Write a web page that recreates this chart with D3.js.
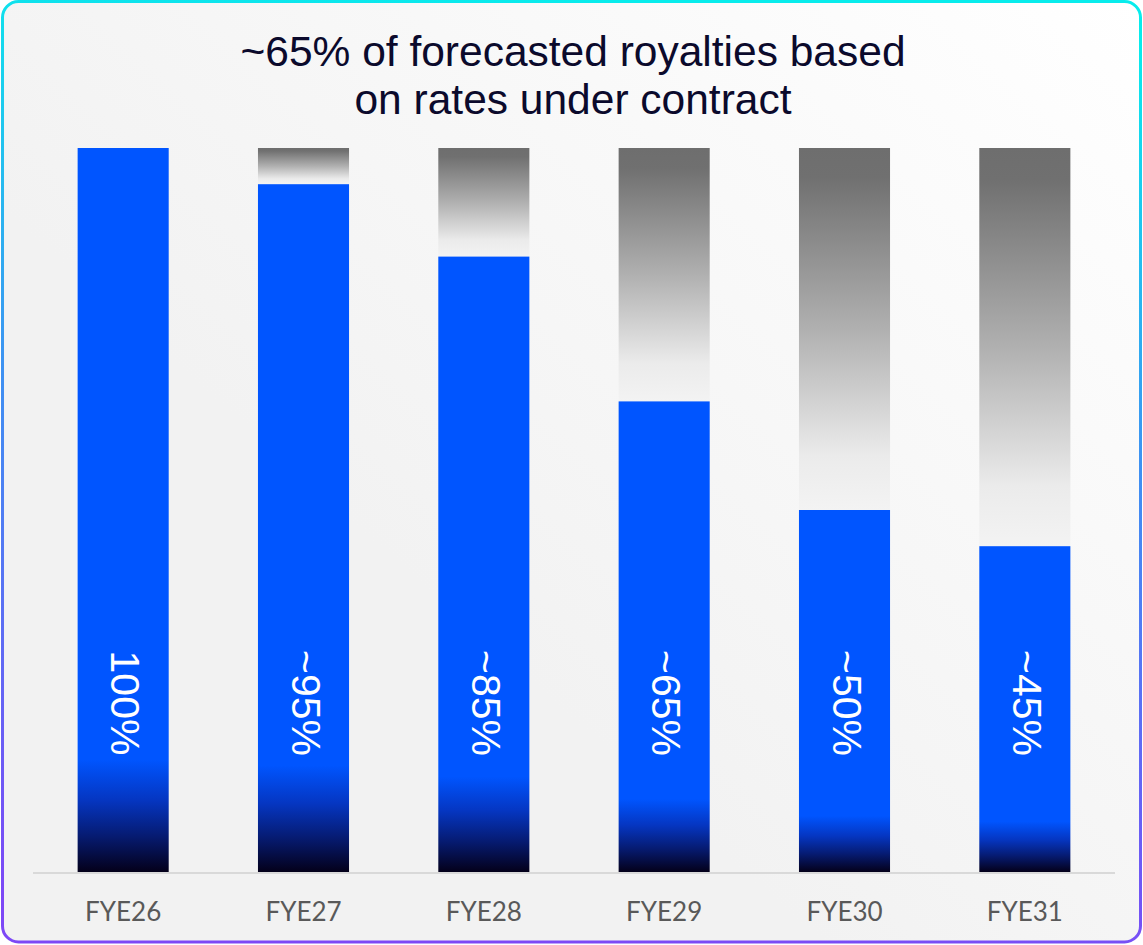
<!DOCTYPE html>
<html>
<head>
<meta charset="utf-8">
<script src="https://cdn.jsdelivr.net/npm/d3@7/dist/d3.min.js"></script>
<style>
  html, body { margin: 0; padding: 0; background: #ffffff; }
  svg { display: block; }
</style>
</head>
<body>
<svg id="chart" width="1143" height="945"></svg>
<script>
// Fiscal years and the share of forecasted royalties based on contracted rates (%)
const years = ["FYE26", "FYE27", "FYE28", "FYE29", "FYE30", "FYE31"];
const contracted = [100, 95, 85, 65, 50, 45];
const approxFlags = [false, true, true, true, true, true];
const titleLines = ["~65% of forecasted royalties based", "on rates under contract"];
const total = 100;

const W = 1143, H = 945;
const svg = d3.select("#chart");
const defs = svg.append("defs");

// Panel background: light grey brightening toward the top-right corner
const bg = defs.append("linearGradient").attr("id", "panelBg")
  .attr("x1", 1).attr("y1", 0).attr("x2", 0.35).attr("y2", 0.6);
bg.append("stop").attr("offset", 0).attr("stop-color", "#ffffff");
bg.append("stop").attr("offset", 1).attr("stop-color", "#f2f2f2");

// Frame stroke: cyan at the top to violet at the bottom
const frame = defs.append("linearGradient").attr("id", "frameStroke")
  .attr("x1", 0.55).attr("y1", 0).attr("x2", 0.45).attr("y2", 1);
frame.append("stop").attr("offset", 0).attr("stop-color", "#08ecec");
frame.append("stop").attr("offset", 0.45).attr("stop-color", "#3f90f2");
frame.append("stop").attr("offset", 1).attr("stop-color", "#7d48f6");

// Contracted portion: solid blue, deepening to near-black at the base
const blue = defs.append("linearGradient").attr("id", "blueBar")
  .attr("x1", 0).attr("y1", 0).attr("x2", 0).attr("y2", 1);
[[0, "#0055ff"], [0.845, "#0055ff"], [0.9, "#0536c2"], [0.95, "#061b72"], [1, "#04001a"]]
  .forEach(([o, c]) => blue.append("stop").attr("offset", o).attr("stop-color", c));

// Remaining portion: dark grey fading out toward the blue segment
const grey = defs.append("linearGradient").attr("id", "greyBar")
  .attr("x1", 0).attr("y1", 0).attr("x2", 0).attr("y2", 1);
[[0, "#6e6e6e"], [0.08, "#707070"], [0.5, "#b0b0b0"], [0.85, "#ebebeb"], [1, "#f3f3f3"]]
  .forEach(([o, c]) => grey.append("stop").attr("offset", o).attr("stop-color", c));

// Panel
svg.append("rect")
  .attr("x", 2.5).attr("y", 1.5).attr("width", W - 5).attr("height", H - 4.5)
  .attr("rx", 16).attr("ry", 16)
  .attr("fill", "url(#panelBg)")
  .attr("stroke", "url(#frameStroke)").attr("stroke-width", 3);

// Title
svg.append("text")
  .attr("x", 573).attr("text-anchor", "middle")
  .attr("font-family", "Liberation Sans, Arial, sans-serif")
  .attr("font-size", 42.5).attr("fill", "#0b0a2c")
  .selectAll("tspan").data(titleLines).join("tspan")
  .attr("x", 573).attr("y", (d, i) => 66 + i * 48)
  .text(d => d);

// Scales
const x = d3.scaleBand().domain(years).range([33, 1115])
  .paddingInner(0.495).paddingOuter(0.2475);
const y = d3.scaleLinear().domain([0, total]).range([872, 148]);

const rows = years.map((yr, i) => ({ year: yr, value: contracted[i], approx: approxFlags[i] }));

// Remaining (non-contracted) segments
svg.append("g").selectAll("rect").data(rows.filter(d => d.value < total)).join("rect")
  .attr("x", d => x(d.year)).attr("width", x.bandwidth())
  .attr("y", y(total)).attr("height", d => y(d.value) - y(total))
  .attr("fill", "url(#greyBar)");

// Contracted segments
svg.append("g").selectAll("rect").data(rows).join("rect")
  .attr("x", d => x(d.year)).attr("width", x.bandwidth())
  .attr("y", d => y(d.value)).attr("height", d => y(0) - y(d.value))
  .attr("fill", "url(#blueBar)");

// Baseline
svg.append("line")
  .attr("x1", 33).attr("x2", 1115).attr("y1", y(0) + 1).attr("y2", y(0) + 1)
  .attr("stroke", "#d9d9d9").attr("stroke-width", 2);

// Category axis labels
const xAxis = svg.append("g").attr("transform", `translate(0,${y(0)})`)
  .call(d3.axisBottom(x).tickSize(0).tickPadding(31));
xAxis.select(".domain").remove();
xAxis.selectAll("text")
  .attr("font-family", "Lato, 'Open Sans', sans-serif")
  .attr("font-size", 26).attr("fill", "#595959");

// Rotated value labels inside the bars
svg.append("g").selectAll("text").data(rows).join("text")
  .attr("transform", d => `translate(${x(d.year) + x.bandwidth() / 2 + 2},703) rotate(90)`)
  .attr("text-anchor", "middle").attr("dominant-baseline", "central")
  .attr("font-family", "Liberation Sans, Arial, sans-serif")
  .attr("font-size", 41).attr("fill", "#ffffff")
  .text(d => (d.approx ? "~" : "") + d.value + "%");
</script>
</body>
</html>
